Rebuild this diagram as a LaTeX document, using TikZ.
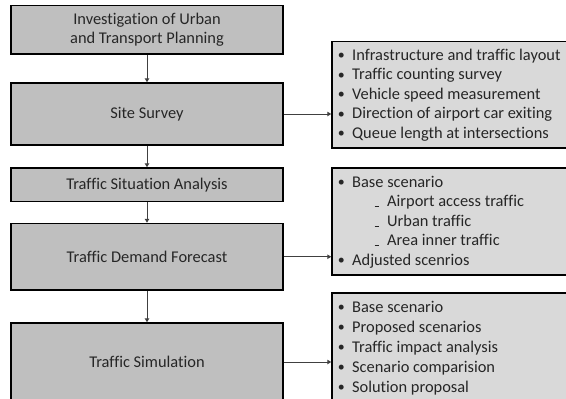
\documentclass[tikz,border=0pt]{standalone}
\usepackage{fontspec}
\setmainfont{Carlito}[Ligatures=NoCommon]
\usetikzlibrary{arrows.meta}
\definecolor{lboxc}{HTML}{BFBFBF}
\definecolor{rboxc}{HTML}{D9D9D9}
\definecolor{txtc}{HTML}{262626}
\definecolor{linc}{HTML}{404040}
\newcommand{\bul}{\llap{\raisebox{0.3pt}{\scalebox{0.85}{•}}\hspace{7.5pt}}}
\newcommand{\subdash}{\llap{\rule[-0.5pt]{4.5pt}{1pt}\hspace{8pt}}}
\begin{document}
\begin{tikzpicture}[x=1pt,y=-1pt,
  mainbox/.style={draw=black, line width=1.5pt, fill=lboxc, text=txtc,
    font=\fontsize{16.4}{19}\selectfont, align=center, minimum width=272pt, inner sep=0pt},
  sidebox/.style={draw=black, line width=1.5pt, fill=rboxc, minimum width=288pt, inner sep=0pt},
  item/.style={anchor=base west, inner sep=0pt, text=txtc, font=\fontsize{16.4}{19}\selectfont},
  flow/.style={draw=linc, line width=1pt, -{Triangle[length=4pt,width=4.5pt]}}]
\clip (0,0) rectangle (566,399);
\useasboundingbox (0,0) rectangle (566,399);

% left column
\node[mainbox, minimum height=48.5pt] (b1) at (147,29.75) {Investigation of Urban\\and Transport Planning};
\node[mainbox, minimum height=62pt] (b2) at (147,114) {Site Survey};
\node[mainbox, minimum height=33.5pt] (b3) at (147,184.75) {Traffic Situation Analysis};
\node[mainbox, minimum height=66.5pt] (b4) at (147,256.75) {Traffic Demand Forecast};
\node[mainbox, minimum height=78pt] (b5) at (147,362) {Traffic Simulation};

% right column boxes
\node[sidebox, minimum height=106.5pt] (r1) at (476,94.75) {};
\node[sidebox, minimum height=107pt] (r2) at (476,221.5) {};
\node[sidebox, minimum height=127pt] (r3) at (476,356.5) {};

% items of r1
\node[item] (r1a) at (352,60) {\bul Infrastructure and traffic layout};
\node[item] (r1b) at (352,79.5) {\bul Traffic counting survey};
\node[item] (r1c) at (352,99) {\bul Vehicle speed measurement};
\node[item] (r1d) at (352,118.5) {\bul Direction of airport car exiting};
\node[item] (r1e) at (352,138) {\bul Queue length at intersections};

% items of r2
\node[item] (r2a) at (352,187) {\bul Base scenario};
\node[item] (r2b) at (387,206.5) {\subdash Airport access traffic};
\node[item] (r2c) at (387,226) {\subdash Urban traffic};
\node[item] (r2d) at (387,245.5) {\subdash Area inner traffic};
\node[item] (r2e) at (352,265) {\bul Adjusted scenrios};

% items of r3
\node[item] (r3a) at (352,312) {\bul Base scenario};
\node[item] (r3b) at (352,332) {\bul Proposed scenarios};
\node[item] (r3c) at (352,352) {\bul Traffic impact analysis};
\node[item] (r3d) at (352,372) {\bul Scenario comparision};
\node[item] (r3e) at (352,392) {\bul Solution proposal};

% connectors
\draw[flow] (b1) -- (b2);
\draw[flow] (b2) -- (b3);
\draw[flow] (b3) -- (b4);
\draw[flow] (b4) -- (b5);
\draw[flow] (b2.east) -- (b2.east -| r1.west);
\draw[flow] (b4.east) -- (b4.east -| r2.west);
\draw[flow] (b5.east) -- (b5.east -| r3.west);
\end{tikzpicture}
\end{document}
